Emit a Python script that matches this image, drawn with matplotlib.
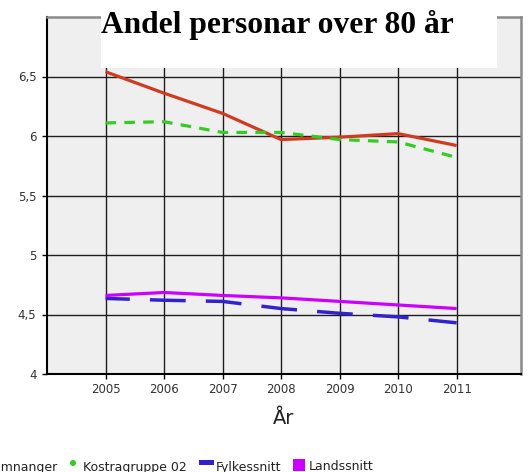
import matplotlib
matplotlib.use("Agg")
import matplotlib.pyplot as plt
from matplotlib.patches import Rectangle, Ellipse

# --- Dados ---
years = [2005, 2006, 2007, 2008, 2009, 2010, 2011]
samnanger = [6.54, 6.36, 6.19, 5.97, 5.99, 6.02, 5.92]
kostragruppe = [6.11, 6.12, 6.03, 6.03, 5.97, 5.95, 5.82]
fylkessnitt = [4.635, 4.62, 4.61, 4.55, 4.51, 4.48, 4.43]
landssnitt = [4.66, 4.685, 4.66, 4.64, 4.61, 4.58, 4.55]

y_ticks = [4, 4.5, 5, 5.5, 6, 6.5]
y_labels = ["4", "4,5", "5", "5,5", "6", "6,5"]

W, H = 530, 472
fig = plt.figure(figsize=(W / 100, H / 100), dpi=100)
ax = fig.add_axes([47 / W, 1 - 374 / H, (521 - 47) / W, (374 - 17) / H])
ax.set_facecolor("#efefef")

ax.plot(years, samnanger, color="#d03a20", lw=2.3, solid_capstyle="butt")
ax.plot(years, kostragruppe, color="#33cc22", lw=2.3,
        linestyle=(0, (3.3, 2.6)))
ax.plot(years, fylkessnitt, color="#3322cc", lw=2.5,
        linestyle=(3.3, (10.3, 5.8)))
ax.plot(years, landssnitt, color="#cc00ff", lw=2.3, solid_capstyle="butt")

ax.set_xlim(2004.0, 2012.1)
ax.set_ylim(4, 7)
ax.set_xticks(years)
ax.set_yticks(y_ticks)
ax.set_yticklabels(y_labels)
ax.set_axisbelow(True)
ax.grid(True, color="#1e1e1e", lw=1.0)
ax.tick_params(direction="out", length=3.6, width=1, color="black",
               labelcolor="#333333", labelsize=8.5)
ax.tick_params(axis="y", pad=4)
ax.tick_params(axis="x", pad=3)

for s in ["left", "bottom"]:
    ax.spines[s].set_color("black")
    ax.spines[s].set_linewidth(1.5)
for s in ["top", "right"]:
    ax.spines[s].set_color("#8a8a8a")
    ax.spines[s].set_linewidth(1.8)

ax.set_xlabel("År", fontsize=14, color="#222222", labelpad=9)

# Título com caixa branca
fig.patches.append(Rectangle((101 / W, 1 - 68 / H), 396 / W, 54 / H,
                             transform=fig.transFigure, facecolor="white",
                             edgecolor="none", zorder=1))
fig.text(101 / W, 1 - 33 / H, "Andel personar over 80 år",
         family="Liberation Serif", weight="bold", fontsize=22.7,
         ha="left", va="baseline", zorder=3)

# Legenda (cortada à esquerda, como no original)
ly = 1 - 467 / H
tkw = dict(fontsize=9, color="#222222", va="center")
fig.text(57 / W, ly, "Samnanger", ha="right", **tkw)
fig.patches.append(Ellipse((73 / W, 1 - 463 / H), 6 / W, 6 / H,
                           transform=fig.transFigure, facecolor="#33cc22",
                           edgecolor="none", zorder=2))
fig.text(83 / W, ly, "Kostragruppe 02", ha="left", **tkw)
fig.patches.append(Rectangle((199 / W, 1 - 465 / H), 15 / W, 5 / H,
                             transform=fig.transFigure, facecolor="#3322cc",
                             edgecolor="none", zorder=2))
fig.text(216 / W, ly, "Fylkessnitt", ha="left", **tkw)
fig.patches.append(Rectangle((293 / W, 1 - 471 / H), 12 / W, 12 / H,
                             transform=fig.transFigure, facecolor="#cc00ff",
                             edgecolor="none", zorder=2))
fig.text(309 / W, ly, "Landssnitt", ha="left", **tkw)

fig.savefig("out.png", dpi=100)
